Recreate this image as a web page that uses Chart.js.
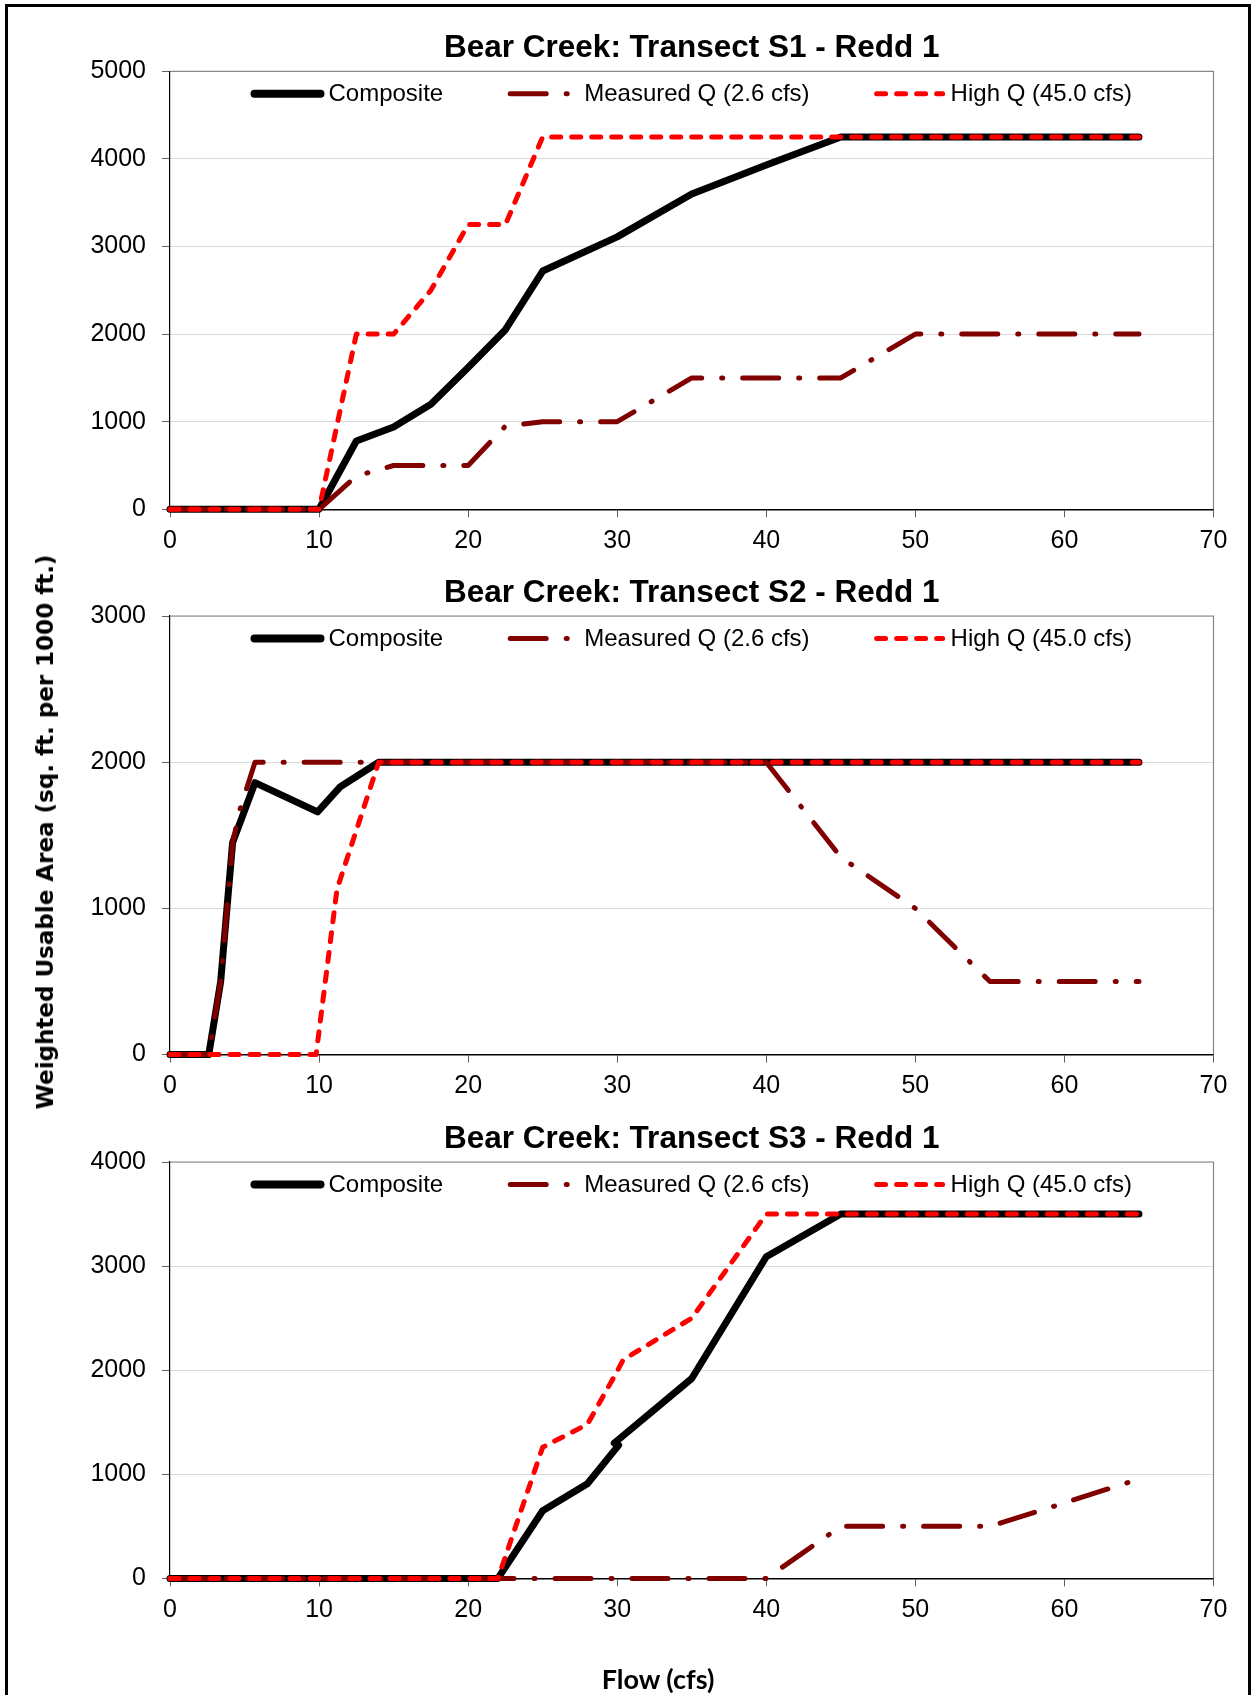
<!DOCTYPE html>
<html><head><meta charset="utf-8">
<script src="https://cdn.jsdelivr.net/npm/chart.js@4.4.1/dist/chart.umd.min.js"></script>
<style>
html,body{margin:0;padding:0;background:#fff;overflow:hidden;}
#wrap{position:relative;width:1255px;height:1695px;overflow:hidden;background:#fff;}
.frame{position:absolute;left:5px;top:4px;width:1246px;height:1740px;border:3px solid #000;box-sizing:border-box;}
canvas{position:absolute;left:0;}
#ytitle{position:absolute;left:45px;top:832px;transform:translate(-50%,-50%) rotate(-90deg);font:bold 23px "DejaVu Sans";white-space:nowrap;color:#000;}
#xtitle{position:absolute;left:658px;top:1678px;transform:translate(-50%,-50%);font:bold 27px Lato;white-space:nowrap;color:#000;}
</style></head>
<body>
<div id="wrap">
  <div class="frame"></div>
  <canvas id="c1" width="1255" height="560" style="top:0px;width:1255px;height:560px"></canvas>
  <canvas id="c2" width="1255" height="560" style="top:560px;width:1255px;height:560px"></canvas>
  <canvas id="c3" width="1255" height="575" style="top:1120px;width:1255px;height:575px"></canvas>
  <div id="ytitle">Weighted Usable Area (sq. ft. per 1000 ft.)</div>
  <div id="xtitle">Flow (cfs)</div>
</div>
<script>
// ---- labels ----
const seriesLabels = ['Composite', 'Measured Q (2.6 cfs)', 'High Q (45.0 cfs)'];
const chartTitles = ['Bear Creek: Transect S1 - Redd 1', 'Bear Creek: Transect S2 - Redd 1', 'Bear Creek: Transect S3 - Redd 1'];
const xAxisMax = 70;
const yAxisMax = [5000, 3000, 4000];

// ---- Transect S1 ----
const s1CompositeX = [0, 10, 12.5, 15, 17.5, 20, 22.5, 25, 30, 35, 40, 45, 50, 55, 60, 65];
const s1CompositeY = [0, 0, 780, 940, 1200, 1620, 2050, 2720, 3110, 3600, 3930, 4250, 4250, 4250, 4250, 4250];
const s1MeasuredX = [0, 10, 12.5, 15, 20, 22.5, 25, 30, 32.5, 35, 40, 45, 47.5, 50, 55, 60, 65];
const s1MeasuredY = [0, 0, 380, 500, 500, 950, 1000, 1000, 1250, 1500, 1500, 1500, 1750, 2000, 2000, 2000, 2000];
const s1HighX = [0, 10, 12.5, 15, 17.5, 20, 22.5, 25, 30, 35, 40, 45, 50, 55, 60, 65];
const s1HighY = [0, 0, 2000, 2000, 2500, 3250, 3250, 4250, 4250, 4250, 4250, 4250, 4250, 4250, 4250, 4250];

// ---- Transect S2 ----
const s2CompositeX = [0, 2.6, 3.4, 4.2, 5.7, 9.9, 11.4, 14, 20, 30, 40, 50, 60, 65];
const s2CompositeY = [0, 0, 500, 1450, 1860, 1660, 1830, 2000, 2000, 2000, 2000, 2000, 2000, 2000];
const s2MeasuredX = [0, 2.6, 3.4, 4.2, 4.7, 5.7, 10, 14, 20, 30, 40, 45, 50, 55, 60, 65];
const s2MeasuredY = [0, 0, 500, 1450, 1680, 2000, 2000, 2000, 2000, 2000, 2000, 1350, 1000, 500, 500, 500];
const s2HighX = [0, 9.8, 11.2, 14, 20, 30, 40, 50, 60, 65];
const s2HighY = [0, 0, 1130, 2000, 2000, 2000, 2000, 2000, 2000, 2000];

// ---- Transect S3 ----
const s3CompositeX = [0, 10, 22, 25, 28, 30.1, 29.8, 35, 40, 45, 50, 55, 60, 65];
const s3CompositeY = [0, 0, 0, 650, 910, 1280, 1300, 1920, 3090, 3500, 3500, 3500, 3500, 3500];
const s3MeasuredX = [0, 10, 20, 30, 40, 42.5, 45, 50, 55, 60, 65];
const s3MeasuredY = [0, 0, 0, 0, 0, 250, 500, 500, 500, 725, 955];
const s3HighX = [0, 10, 22, 25, 28, 30, 30.4, 35, 40, 45, 50, 55, 60, 65];
const s3HighY = [0, 0, 0, 1260, 1480, 1990, 2100, 2500, 3500, 3500, 3500, 3500, 3500, 3500];

const FONT = '"Liberation Sans", Arial, sans-serif';
Chart.defaults.font.family = FONT;
Chart.defaults.color = '#000';

function pts(xs, ys) { return xs.map((x, i) => ({ x: x, y: ys[i] })); }

const styles = [
  { borderColor: '#000000', borderWidth: 7, borderDash: [], order: 2, borderCapStyle: 'round', legendWidth: 8 },
  { borderColor: '#800000', borderWidth: 5, borderDash: [36, 20, 1, 20], order: 1, borderCapStyle: 'round', legendWidth: 5 },
  { borderColor: '#ff0000', borderWidth: 5, borderDash: [9, 11], order: 0, borderCapStyle: 'round', legendWidth: 5 }
];

const insidePlugin = {
  id: 'inside',
  beforeDatasetsDraw(chart) {
    const a = chart.chartArea, ctx = chart.ctx;
    ctx.save();
    ctx.strokeStyle = '#868686';
    ctx.lineWidth = 1.2;
    ctx.beginPath();
    ctx.moveTo(a.left, a.top);
    ctx.lineTo(a.right, a.top);
    ctx.lineTo(a.right, a.bottom);
    ctx.stroke();
    ctx.restore();
  },
  afterDatasetsDraw(chart) {
    const a = chart.chartArea, ctx = chart.ctx;
    const cx = (a.left + a.right) / 2;
    ctx.save();
    // title
    ctx.font = 'bold 31.5px ' + FONT;
    ctx.fillStyle = '#000';
    ctx.textAlign = 'center';
    ctx.textBaseline = 'middle';
    ctx.fillText(chart.options.plugins.inside.title, cx, a.top - 23);
    // legend inside plot area
    ctx.font = '24px ' + FONT;
    const ds = chart.data.datasets;
    const widths = ds.map(d => 77 + ctx.measureText(d.label).width);
    const gap = 64;
    const total = widths.reduce((s, w) => s + w, 0) + gap * (ds.length - 1);
    let x = cx - total / 2;
    const y = a.top + 22.5;
    ds.forEach((d, i) => {
      ctx.save();
      ctx.strokeStyle = d.borderColor;
      ctx.lineWidth = d.legendWidth;
      ctx.lineCap = 'round';
      ctx.setLineDash(d.borderDash || []);
      ctx.beginPath();
      ctx.moveTo(x + 3, y);
      ctx.lineTo(x + 69, y);
      ctx.stroke();
      ctx.restore();
      ctx.fillStyle = '#000';
      ctx.textAlign = 'left';
      ctx.textBaseline = 'middle';
      ctx.fillText(d.label, x + 77, y + 1);
      x += widths[i] + gap;
    });
    ctx.restore();
  }
};

function makeChart(id, idx, seriesData, padTop, padBottom) {
  const datasets = seriesData.map((d, i) => Object.assign({
    label: seriesLabels[i],
    data: d,
    pointRadius: 0,
    pointHoverRadius: 0,
    tension: 0,
    fill: false,
    clip: false,
    borderJoinStyle: 'round'
  }, styles[i]));
  return new Chart(document.getElementById(id), {
    type: 'line',
    data: { datasets: datasets },
    plugins: [insidePlugin],
    options: {
      responsive: false,
      animation: false,
      devicePixelRatio: 1,
      layout: { padding: { top: padTop, bottom: padBottom, left: 0, right: 41.5 } },
      plugins: {
        legend: { display: false },
        title: { display: false },
        tooltip: { enabled: false },
        inside: { title: chartTitles[idx] }
      },
      scales: {
        x: {
          type: 'linear',
          min: 0, max: xAxisMax,
          ticks: { stepSize: 10, padding: 9, font: { size: 25 }, color: '#000', maxRotation: 0, callback: v => String(v) },
          grid: { display: true, drawOnChartArea: false, drawTicks: true, tickLength: 8, tickColor: '#606060' },
          border: { display: true, color: '#000', width: 1.5 },
          afterFit(axis) { axis.height = 45; axis.paddingLeft = 0; axis.paddingRight = 0; }
        },
        y: {
          type: 'linear',
          min: 0, max: yAxisMax[idx],
          ticks: { stepSize: 1000, padding: 16, font: { size: 25 }, color: '#000', callback: v => String(v) },
          grid: { display: true, drawOnChartArea: true, color: '#d9d9d9', lineWidth: 1, drawTicks: true, tickLength: 8, tickColor: '#606060' },
          border: { display: true, color: '#000', width: 1.2 },
          afterFit(axis) { axis.width = 170; axis.paddingTop = 0; axis.paddingBottom = 0; }
        }
      }
    }
  });
}

makeChart('c1', 0, [pts(s1CompositeX, s1CompositeY), pts(s1MeasuredX, s1MeasuredY), pts(s1HighX, s1HighY)], 71.3, 5.7);
makeChart('c2', 1, [pts(s2CompositeX, s2CompositeY), pts(s2MeasuredX, s2MeasuredY), pts(s2HighX, s2HighY)], 56, 20.4);
makeChart('c3', 2, [pts(s3CompositeX, s3CompositeY), pts(s3MeasuredX, s3MeasuredY), pts(s3HighX, s3HighY)], 42, 71.6);
</script>
</body></html>
